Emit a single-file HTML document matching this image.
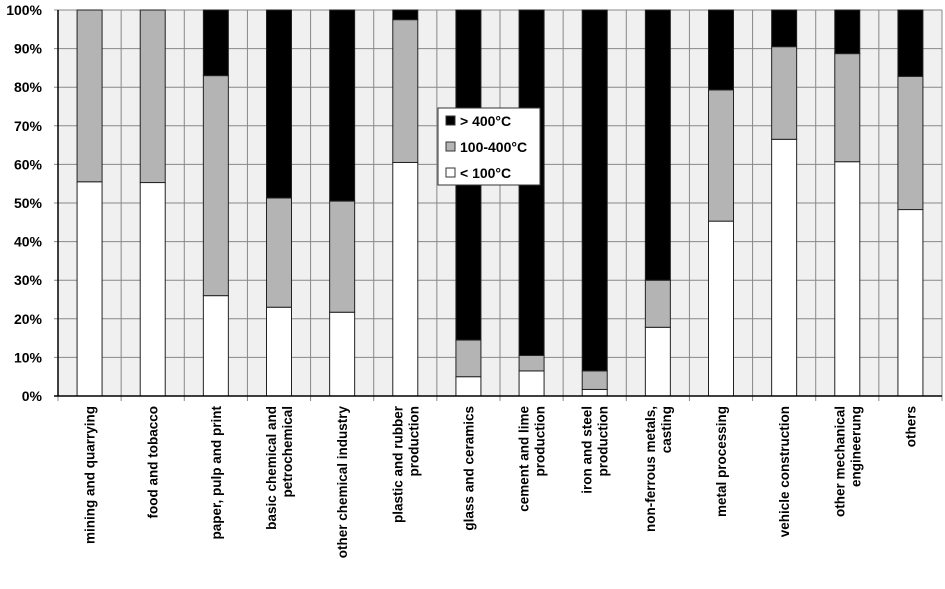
<!DOCTYPE html>
<html><head><meta charset="utf-8"><style>
body{margin:0;background:#fff;width:945px;height:584px;overflow:hidden}
svg text{font-family:"Liberation Sans",sans-serif;font-weight:bold;fill:#000}
</style></head><body>
<svg id="chart" width="945" height="584"></svg>
<script>
const categories=[["mining and quarrying"],["food and tobacco"],["paper, pulp and print"],["basic chemical and","petrochemical"],["other chemical industry"],["plastic and rubber","production"],["glass and ceramics"],["cement and lime","production"],["iron and steel","production"],["non-ferrous metals,","casting"],["metal processing"],["vehicle construction"],["other mechanical","engineerung"],["others"]];
const lowTemp=[55.5,55.3,26,23,21.7,60.5,5,6.5,1.7,17.8,45.3,66.5,60.7,48.3];
const midTemp=[44.5,44.7,57,28.3,28.8,37,9.5,4,4.8,12.2,34,24,28,34.5];
const highTemp=[0,0,17,48.7,49.5,2.5,85.5,89.5,93.5,70,20.7,9.5,11.3,17.2];
const yTicks=[0,10,20,30,40,50,60,70,80,90,100];
const NS="http://www.w3.org/2000/svg";
const svg=document.getElementById('chart');
const L=58,R=942,T=10,B=396;
const n=categories.length, cw=(R-L)/n, bw=25;
const y=v=>B-(B-T)*v/100;
const xc=i=>L+cw*(i+0.5);
function mk(t,a,p){const e=document.createElementNS(NS,t);for(const k in a)e.setAttribute(k,a[k]);(p||svg).appendChild(e);return e;}
let e=mk('rect',{x:L,y:T,width:R-L,height:B-T,fill:'#f0f0f0'});


yTicks.forEach(t=>{
 let g=mk('line',{x1:L-4,x2:R,y1:y(t),y2:y(t),stroke:'#888','stroke-width':1});
 
 
 let tx=mk('text',{x:L-16,y:y(t)+5,'text-anchor':'end','font-size':14});
 tx.textContent=t+'%';
 
 
});
for(let i=0;i<=n;i++){
 let v=mk('line',{x1:L+cw*i,x2:L+cw*i,y1:T,y2:B+5,stroke:'#888','stroke-width':1});
 
 
}
const series=[[lowTemp,'#ffffff','low'],[midTemp,'#b4b4b4','mid'],[highTemp,'#000000','high']];
categories.forEach((c,i)=>{
 let base=0;
 series.forEach(s=>{
  const v=s[0][i];
  if(v>0){
   let r=mk('rect',{x:xc(i)-bw/2,y:y(base+v),width:bw,height:y(base)-y(base+v),fill:s[1],stroke:'#222','stroke-width':1});
   
   
  }
  base+=v;
 });
 const lines=c.length;
 c.forEach((ln,j)=>{
  const off=(j-(lines-1)/2)*16+5;
  let t=mk('text',{x:0,y:0,'text-anchor':'end','font-size':13.5,transform:`translate(${xc(i)+off},406) rotate(-90)`});
  t.textContent=ln;
  
  
 });
});
let ax=mk('line',{x1:L,x2:L,y1:T,y2:B,stroke:'#000','stroke-width':1.5});


let bx=mk('line',{x1:L-4,x2:R,y1:B,y2:B,stroke:'#000','stroke-width':1.5});


const lg=mk('g',{});


mk('rect',{x:438,y:108,width:102,height:77,fill:'#fff',stroke:'#333','stroke-width':1},lg);
[['> 400°C','#000'],['100-400°C','#b4b4b4'],['< 100°C','#fff']].forEach((d,k)=>{
 const yy=121+k*26;
 let sw=mk('rect',{x:446,y:yy-5,width:9,height:9,fill:d[1],stroke:'#333','stroke-width':1},lg);
 
 
 let t=mk('text',{x:460,y:yy+5,'font-size':14},lg);
 t.textContent=d[0];
 
 
});
</script>
</body></html>
